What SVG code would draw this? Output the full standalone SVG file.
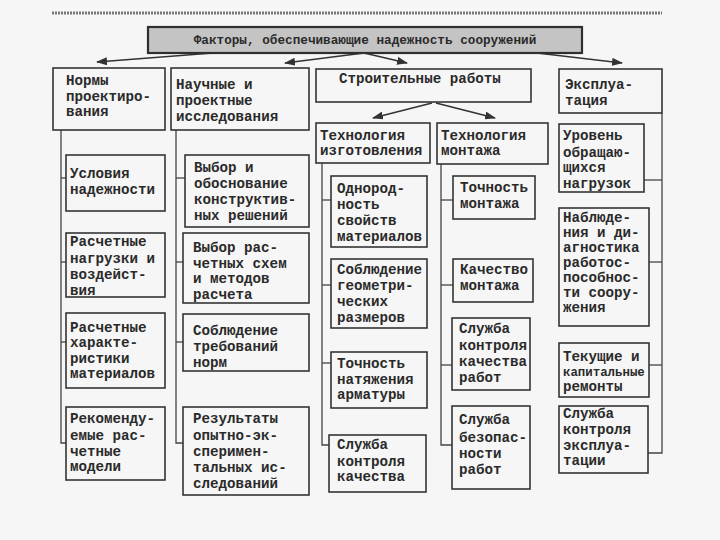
<svg xmlns="http://www.w3.org/2000/svg" width="720" height="540" viewBox="0 0 720 540">
<defs>
<style>
.bg{fill:#f6f6f6}
.box{fill:none;stroke:#353535;stroke-width:1.6}
.tbox{fill:#c4c4c4;stroke:#2e2e2e;stroke-width:2.2}
.t{font-family:"Liberation Mono","DejaVu Sans Mono",monospace;font-weight:bold;font-size:14.2px;fill:#2a2a2a}
.tt{font-family:"Liberation Mono","DejaVu Sans Mono",monospace;font-weight:bold;font-size:12.7px;fill:#2a2a2a}
.sm{font-size:12.4px}
.conn{fill:none;stroke:#444;stroke-width:1.3}
.arr{fill:none;stroke:#333;stroke-width:1.6;marker-end:url(#ah)}
</style>
<marker id="ah" markerWidth="11" markerHeight="8" refX="10" refY="4" orient="auto" markerUnits="userSpaceOnUse">
<path d="M0,0 L11,4 L0,8 Z" fill="#333"/>
</marker>
</defs>
<rect class="bg" x="0" y="0" width="720" height="540"/>
<line x1="52" y1="13" x2="662" y2="13" stroke="#777" stroke-width="3" stroke-dasharray="2 1"/>

<g id="connectors">
<line class="arr" x1="213" y1="53" x2="97" y2="62"/>
<line class="arr" x1="364" y1="53" x2="285" y2="63"/>
<line class="arr" x1="364" y1="53" x2="407" y2="63"/>
<line class="arr" x1="537" y1="53" x2="622" y2="63"/>
<line class="arr" x1="432" y1="103" x2="373" y2="118"/>
<line class="arr" x1="436" y1="103" x2="495" y2="118"/>
<polyline class="conn" points="61,130 61,443 66,443"/>
<line class="conn" x1="61" y1="178" x2="66" y2="178"/>
<line class="conn" x1="61" y1="262" x2="66" y2="262"/>
<line class="conn" x1="61" y1="342" x2="66" y2="342"/>
<polyline class="conn" points="176,130 176,443 183,443"/>
<line class="conn" x1="176" y1="178" x2="185" y2="178"/>
<line class="conn" x1="176" y1="262" x2="183" y2="262"/>
<line class="conn" x1="176" y1="342" x2="183" y2="342"/>
<polyline class="conn" points="322,163 322,445 329,445"/>
<line class="conn" x1="322" y1="200" x2="331" y2="200"/>
<line class="conn" x1="322" y1="285" x2="331" y2="285"/>
<line class="conn" x1="322" y1="363" x2="331" y2="363"/>
<polyline class="conn" points="441,164 441,445 452,445"/>
<line class="conn" x1="441" y1="200" x2="453" y2="200"/>
<line class="conn" x1="441" y1="285" x2="453" y2="285"/>
<line class="conn" x1="441" y1="365" x2="452" y2="365"/>
<polyline class="conn" points="662,113 662,453 648,453"/>
<line class="conn" x1="644" y1="180" x2="662" y2="180"/>
<line class="conn" x1="649" y1="262" x2="662" y2="262"/>
<line class="conn" x1="649" y1="365" x2="662" y2="365"/>
</g>

<g id="n_title"><rect class="tbox" x="148" y="27" width="434" height="26"/>
<text class="tt" x="365" y="44" text-anchor="middle">Факторы, обеспечивающие надежность сооружений</text></g>

<g id="n_normy"><rect class="box" x="53" y="68" width="112" height="62"/>
<text class="t"><tspan x="66" y="85">Нормы</tspan><tspan x="66" y="101">проектиро-</tspan><tspan x="66" y="116">вания</tspan></text></g>

<g id="n_nauch"><rect class="box" x="171" y="68" width="138" height="62"/>
<text class="t"><tspan x="176" y="89">Научные и</tspan><tspan x="176" y="105">проектные</tspan><tspan x="176" y="121">исследования</tspan></text></g>

<g id="n_stroit"><rect class="box" x="316" y="69" width="215" height="33"/>
<text class="t" x="339" y="83">Строительные работы</text></g>

<g id="n_expl"><rect class="box" x="559" y="69" width="103" height="44"/>
<text class="t"><tspan x="565" y="89">Эксплуа-</tspan><tspan x="565" y="105">тация</tspan></text></g>

<g id="n_izgot"><rect class="box" x="316" y="123" width="114" height="40"/>
<text class="t"><tspan x="320" y="140">Технология</tspan><tspan x="320" y="155">изготовления</tspan></text></g>

<g id="n_montazh"><rect class="box" x="437" y="123" width="111" height="41"/>
<text class="t"><tspan x="441" y="140">Технология</tspan><tspan x="441" y="155">монтажа</tspan></text></g>

<g id="n_uroven"><rect class="box" x="559" y="124" width="85" height="68"/>
<text class="t"><tspan x="563" y="140">Уровень</tspan><tspan x="563" y="157">обращаю-</tspan><tspan x="563" y="172">щихся</tspan><tspan x="563" y="188">нагрузок</tspan></text></g>

<g id="n_usl"><rect class="box" x="66" y="155" width="99" height="56"/>
<text class="t"><tspan x="70" y="178">Условия</tspan><tspan x="70" y="194">надежности</tspan></text></g>

<g id="n_vybor1"><rect class="box" x="185" y="155" width="124" height="72"/>
<text class="t"><tspan x="194" y="172">Выбор и</tspan><tspan x="194" y="188">обоснование</tspan><tspan x="194" y="204">конструктив-</tspan><tspan x="194" y="220">ных решений</tspan></text></g>

<g id="n_nagr"><rect class="box" x="66" y="233" width="99" height="64"/>
<text class="t"><tspan x="70" y="246">Расчетные</tspan><tspan x="70" y="263">нагрузки и</tspan><tspan x="70" y="279">воздейст-</tspan><tspan x="70" y="295">вия</tspan></text></g>

<g id="n_vybor2"><rect class="box" x="183" y="233" width="126" height="70"/>
<text class="t"><tspan x="193" y="252">Выбор рас-</tspan><tspan x="193" y="268">четных схем</tspan><tspan x="193" y="283">и методов</tspan><tspan x="193" y="299">расчета</tspan></text></g>

<g id="n_harakt"><rect class="box" x="66" y="313" width="99" height="75"/>
<text class="t"><tspan x="70" y="332">Расчетные</tspan><tspan x="70" y="347">характе-</tspan><tspan x="70" y="363">ристики</tspan><tspan x="70" y="378">материалов</tspan></text></g>

<g id="n_sobl_norm"><rect class="box" x="183" y="314" width="126" height="57"/>
<text class="t"><tspan x="193" y="335">Соблюдение</tspan><tspan x="193" y="351">требований</tspan><tspan x="193" y="367">норм</tspan></text></g>

<g id="n_rekom"><rect class="box" x="66" y="407" width="99" height="73"/>
<text class="t"><tspan x="70" y="423">Рекоменду-</tspan><tspan x="70" y="440">емые рас-</tspan><tspan x="70" y="456">четные</tspan><tspan x="70" y="471">модели</tspan></text></g>

<g id="n_rezult"><rect class="box" x="183" y="407" width="126" height="88"/>
<text class="t"><tspan x="193" y="423">Результаты</tspan><tspan x="193" y="440">опытно-эк-</tspan><tspan x="193" y="456">сперимен-</tspan><tspan x="193" y="472">тальных ис-</tspan><tspan x="193" y="488">следований</tspan></text></g>

<g id="n_odnor"><rect class="box" x="331" y="176" width="96" height="71"/>
<text class="t"><tspan x="337" y="193">Однород-</tspan><tspan x="337" y="209">ность</tspan><tspan x="337" y="225">свойств</tspan><tspan x="337" y="241">материалов</tspan></text></g>

<g id="n_geom"><rect class="box" x="331" y="259" width="96" height="69"/>
<text class="t"><tspan x="337" y="274">Соблюдение</tspan><tspan x="337" y="290">геометри-</tspan><tspan x="337" y="306">ческих</tspan><tspan x="337" y="322">размеров</tspan></text></g>

<g id="n_natyazh"><rect class="box" x="331" y="352" width="96" height="56"/>
<text class="t"><tspan x="337" y="368">Точность</tspan><tspan x="337" y="384">натяжения</tspan><tspan x="337" y="399">арматуры</tspan></text></g>

<g id="n_skk"><rect class="box" x="329" y="435" width="97" height="57"/>
<text class="t"><tspan x="337" y="449">Служба</tspan><tspan x="337" y="466">контроля</tspan><tspan x="337" y="481">качества</tspan></text></g>

<g id="n_tochn_mont"><rect class="box" x="453" y="176" width="82" height="43"/>
<text class="t"><tspan x="460" y="192">Точность</tspan><tspan x="460" y="208">монтажа</tspan></text></g>

<g id="n_kach_mont"><rect class="box" x="453" y="259" width="80" height="43"/>
<text class="t"><tspan x="460" y="274">Качество</tspan><tspan x="460" y="290">монтажа</tspan></text></g>

<g id="n_skkr"><rect class="box" x="452" y="318" width="78" height="72"/>
<text class="t"><tspan x="459" y="333">Служба</tspan><tspan x="459" y="350">контроля</tspan><tspan x="459" y="366">качества</tspan><tspan x="459" y="382">работ</tspan></text></g>

<g id="n_sbr"><rect class="box" x="452" y="406" width="78" height="83"/>
<text class="t"><tspan x="459" y="424">Служба</tspan><tspan x="459" y="442">безопас-</tspan><tspan x="459" y="458">ности</tspan><tspan x="459" y="474">работ</tspan></text></g>

<g id="n_nabl"><rect class="box" x="559" y="208" width="90" height="118"/>
<text class="t"><tspan x="563" y="222">Наблюде-</tspan><tspan x="563" y="237">ния и ди-</tspan><tspan x="563" y="252">агностика</tspan><tspan x="563" y="267">работос-</tspan><tspan x="563" y="282">пособнос-</tspan><tspan x="563" y="297">ти соору-</tspan><tspan x="563" y="312">жения</tspan></text></g>

<g id="n_remont"><rect class="box" x="559" y="343" width="90" height="54"/>
<text class="t"><tspan x="563" y="361">Текущие и</tspan><tspan class="sm" x="563" y="376">капитальные</tspan><tspan x="563" y="391">ремонты</tspan></text></g>

<g id="n_ske"><rect class="box" x="559" y="406" width="89" height="67"/>
<text class="t"><tspan x="563" y="418">Служба</tspan><tspan x="563" y="434">контроля</tspan><tspan x="563" y="450">эксплуа-</tspan><tspan x="563" y="465">тации</tspan></text></g>
</svg>
